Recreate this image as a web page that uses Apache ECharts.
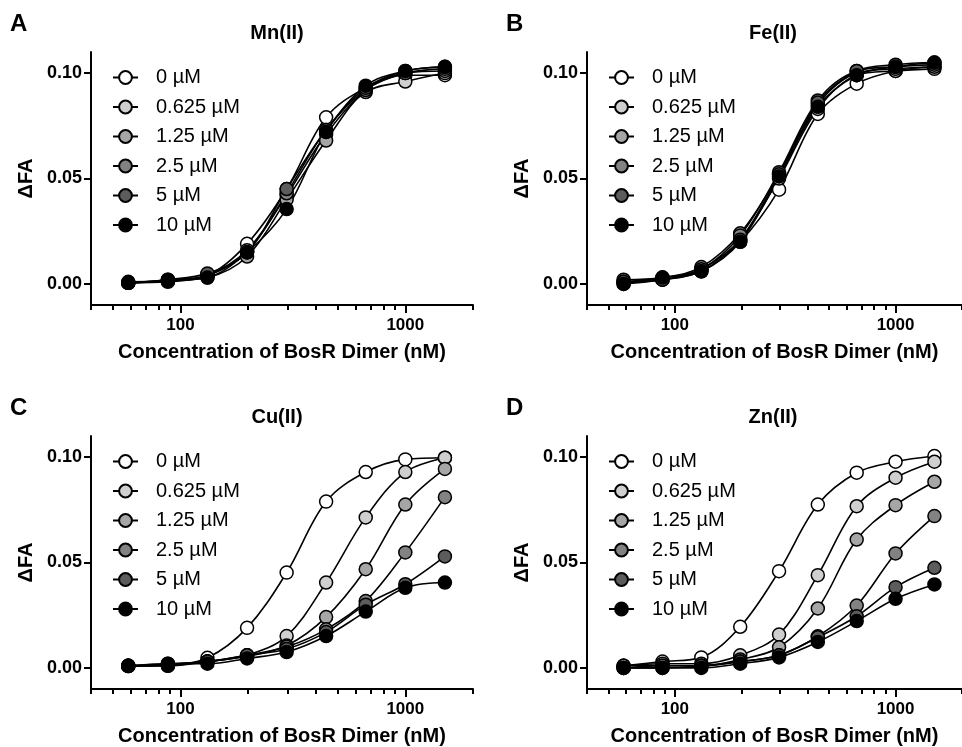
<!DOCTYPE html>
<html>
<head>
<meta charset="utf-8">
<script src="https://cdn.jsdelivr.net/npm/echarts@6/dist/echarts.min.js"></script>
<style>
  html, body { margin: 0; padding: 0; background: #fff; }
  #chart { width: 962px; height: 747px; }
</style>
</head>
<body>
<div id="chart"></div>
<script>
// BosR dimer titration, 1.5x dilution series (nM)
const conc = [58.6, 87.9, 131.8, 197.8, 296.6, 444.4, 666.7, 1000, 1500]
const doses = ['0 µM', '0.625 µM', '1.25 µM', '2.5 µM', '5 µM', '10 µM']
const fills = ['#ffffff', '#cfcfcf', '#a6a6a6', '#828282', '#5c5c5c', '#000000']
const panelTitles = ['Mn(II)', 'Fe(II)', 'Cu(II)', 'Zn(II)']
const panelLetters = ['A', 'B', 'C', 'D']
const xMajorTicks = [100, 1000]
const xMinorTicks = [40, 50, 60, 70, 80, 90, 200, 300, 400, 500, 600, 700, 800, 900, 2000]
const yTicks = [0, 0.05, 0.1]

// ΔFA values, one row per metal concentration
const mn = [
  [0.0005, 0.0015, 0.004, 0.019, 0.045, 0.079, 0.093, 0.099, 0.099],
  [0.0005, 0.001, 0.004, 0.016, 0.042, 0.071, 0.091, 0.096, 0.100],
  [0.001, 0.0015, 0.003, 0.013, 0.040, 0.068, 0.092, 0.100, 0.101],
  [0.0005, 0.002, 0.004, 0.015, 0.043, 0.073, 0.092, 0.100, 0.102],
  [0.0005, 0.002, 0.005, 0.015, 0.045, 0.073, 0.093, 0.101, 0.103],
  [0.0005, 0.0015, 0.003, 0.015, 0.0355, 0.072, 0.094, 0.101, 0.103],
]
const fe = [
  [0.000, 0.002, 0.006, 0.020, 0.0447, 0.0806, 0.095, 0.101, 0.103],
  [0.001, 0.002, 0.007, 0.021, 0.050, 0.083, 0.099, 0.101, 0.102],
  [0.002, 0.003, 0.008, 0.024, 0.052, 0.085, 0.100, 0.102, 0.103],
  [0.001, 0.003, 0.007, 0.023, 0.053, 0.087, 0.101, 0.103, 0.104],
  [0.001, 0.002, 0.006, 0.021, 0.052, 0.086, 0.101, 0.104, 0.105],
  [0.000, 0.003, 0.006, 0.020, 0.051, 0.084, 0.099, 0.103, 0.105],
]
const cu = [
  [0.0008, 0.001, 0.0048, 0.019, 0.0452, 0.0789, 0.0929, 0.0989, 0.0997],
  [0.001, 0.001, 0.003, 0.006, 0.0151, 0.0405, 0.0714, 0.0929, 0.0997],
  [0.001, 0.0015, 0.003, 0.0055, 0.0106, 0.0241, 0.0468, 0.0775, 0.0944],
  [0.001, 0.0015, 0.003, 0.006, 0.010, 0.0183, 0.0317, 0.0548, 0.081],
  [0.001, 0.002, 0.003, 0.006, 0.009, 0.017, 0.030, 0.0397, 0.0529],
  [0.001, 0.002, 0.002, 0.0045, 0.0075, 0.0151, 0.0267, 0.038, 0.0405],
]
const zn = [
  [0.001, 0.003, 0.005, 0.0195, 0.0459, 0.0775, 0.0926, 0.0978, 0.1005],
  [0.001, 0.002, 0.002, 0.006, 0.0158, 0.044, 0.0767, 0.0902, 0.0978],
  [0.001, 0.001, 0.001, 0.004, 0.0098, 0.0282, 0.0609, 0.0772, 0.0883],
  [0.000, 0.001, 0.001, 0.003, 0.006, 0.015, 0.0296, 0.0543, 0.072],
  [0.000, 0.000, 0.001, 0.003, 0.006, 0.0145, 0.0245, 0.0383, 0.0475],
  [0.000, 0.000, 0.000, 0.002, 0.005, 0.0123, 0.0222, 0.0328, 0.0396],
]
const panels = [mn, fe, cu, zn]

const FONT = 'Liberation Sans, Arial, sans-serif'
const lefts = [91, 587]
const tops = [52, 436]
const plotW = 382
const plotH = 253

const grid = []
const xAxis = []
const yAxis = []
const series = []
const legend = []
const title = []

function tickAxis(p, values, len) {
  // overlay log axis that only draws tick marks
  return {
    type: 'log', gridIndex: p, position: 'bottom', min: 40, max: 2000, logBase: 10,
    axisLine: { show: false, onZero: false },
    axisTick: { show: true, customValues: values, length: len, lineStyle: { color: '#000', width: 2 } },
    axisLabel: { show: false },
    splitLine: { show: false },
  }
}

panels.forEach((rows, p) => {
  const left = lefts[p % 2]
  const top = tops[Math.floor(p / 2)]
  grid.push({ left: left, top: top, width: plotW, height: plotH })

  // main x axis: line, labels, name
  xAxis.push({
    type: 'log', gridIndex: p, position: 'bottom', min: 40, max: 2000, logBase: 10,
    axisLine: { onZero: false, lineStyle: { color: '#000', width: 2 } },
    axisTick: { show: false },
    axisLabel: {
      customValues: xMajorTicks, margin: 12, color: '#000', fontWeight: 'bold', fontSize: 17,
      fontFamily: FONT, formatter: (v) => String(Math.round(v)),
    },
    splitLine: { show: false },
    name: 'Concentration of BosR Dimer (nM)', nameLocation: 'middle', nameGap: 37,
    nameTextStyle: { color: '#000', fontWeight: 'bold', fontSize: 20, fontFamily: FONT },
  })
  xAxis.push(tickAxis(p, xMajorTicks, 8))
  xAxis.push(tickAxis(p, xMinorTicks, 5))

  yAxis.push({
    type: 'value', gridIndex: p, min: -0.01, max: 0.11,
    axisLine: { show: true, lineStyle: { color: '#000', width: 2 } },
    axisTick: { show: true, customValues: yTicks, length: 7, lineStyle: { color: '#000', width: 2 } },
    axisLabel: {
      customValues: yTicks, margin: 9, color: '#000', fontWeight: 'bold', fontSize: 18,
      fontFamily: FONT, formatter: (v) => v.toFixed(2),
    },
    splitLine: { show: false },
    name: 'ΔFA', nameLocation: 'middle', nameGap: 55,
    nameTextStyle: { color: '#000', fontWeight: 'bold', fontSize: 20, fontFamily: FONT },
  })

  rows.forEach((vals, i) => {
    series.push({
      name: doses[i], type: 'line', xAxisIndex: p * 3, yAxisIndex: p,
      data: conc.map((c, k) => [c, vals[k]]),
      smooth: 0.35,
      symbol: 'circle', symbolSize: 13,
      lineStyle: { color: '#000', width: 1.6 },
      itemStyle: { color: fills[i], borderColor: '#000', borderWidth: 1.5 },
      emphasis: { disabled: true },
    })
  })

  legend.push({
    orient: 'vertical', left: left + 21, top: top + 15, padding: 0,
    itemWidth: 25, itemHeight: 16, itemGap: 8.5,
    data: doses,
    selectedMode: false,
    textStyle: { fontSize: 20, fontFamily: FONT, color: '#000', lineHeight: 21, padding: [0, 0, 0, 13] },
  })

  title.push({
    text: panelTitles[p], left: left + 186, top: top - 29, textAlign: 'center', padding: 0,
    textStyle: { fontSize: 20, fontWeight: 'bold', fontFamily: FONT, color: '#000' },
  })
  title.push({
    text: panelLetters[p], left: left - 81, top: top - 40, padding: 0,
    textStyle: { fontSize: 24, fontWeight: 'bold', fontFamily: FONT, color: '#000' },
  })
})

const chart = echarts.init(document.getElementById('chart'))
chart.setOption({
  animation: false,
  backgroundColor: '#fff',
  textStyle: { fontFamily: FONT },
  title: title,
  legend: legend,
  grid: grid,
  xAxis: xAxis,
  yAxis: yAxis,
  series: series,
})
</script>
</body>
</html>
